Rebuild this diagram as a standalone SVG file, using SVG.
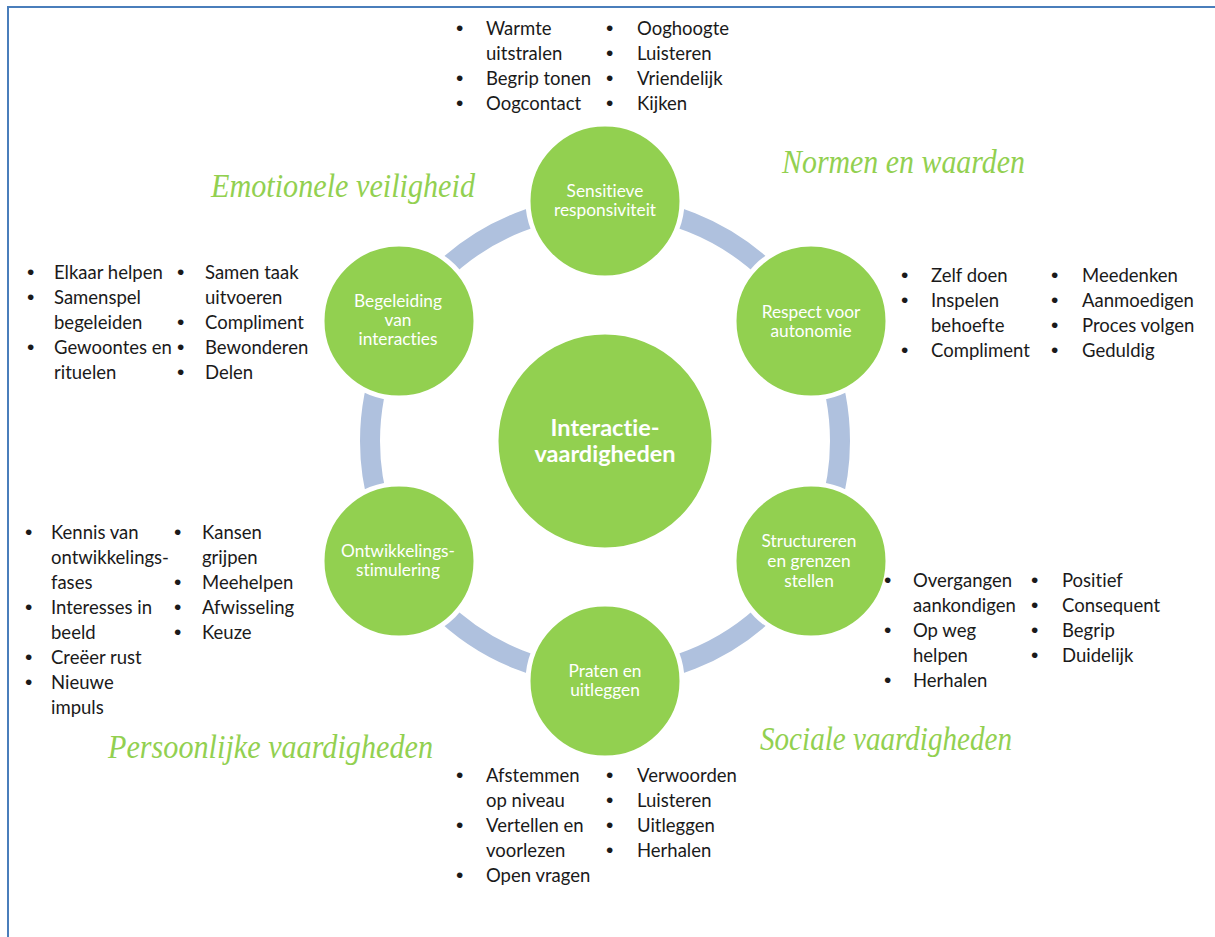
<svg xmlns="http://www.w3.org/2000/svg" width="1215" height="937" viewBox="0 0 1215 937">
<style>
.bg{fill:#ffffff}
.frame{fill:none;stroke:#4a7ebb;stroke-width:2}
.ring{fill:none;stroke:#afc1de;stroke-width:20}
.sat{fill:#92d050;stroke:#ffffff;stroke-width:5}
.core{fill:#92d050;stroke:#ffffff;stroke-width:3}
text{font-variant-ligatures:none}
.lbl{font-family:Lato,"Open Sans","Liberation Sans",sans-serif;font-size:17.3px;fill:#ffffff;text-anchor:middle}
.corelbl{font-family:Lato,"Open Sans","Liberation Sans",sans-serif;font-size:23.5px;font-weight:bold;fill:#ffffff;text-anchor:middle}
.li{font-family:Lato,"Open Sans","Liberation Sans",sans-serif;font-size:18.5px;fill:#1a1a1a}
.li .b{font-family:"Liberation Sans",sans-serif;font-size:21px}
.title{font-family:"Liberation Serif","DejaVu Serif",serif;font-style:italic;font-size:34px;fill:#92d050}
</style>
<rect class="bg" x="0" y="0" width="1215" height="937"/>
<rect class="frame" x="8" y="7" width="1300" height="1000"/>

<g id="connectors">
<circle class="ring" cx="605" cy="441" r="235"/>
</g>

<g id="center">
<circle class="core" cx="605" cy="441" r="108"/>
<text class="corelbl" x="605" y="436">Interactie-</text>
<text class="corelbl" x="605" y="462">vaardigheden</text>
</g>

<g id="sensitieve">
<circle class="sat" cx="605" cy="201" r="77"/>
<text class="lbl" x="605" y="197">Sensitieve</text>
<text class="lbl" x="605" y="216">responsiviteit</text>
</g>

<g id="respect">
<circle class="sat" cx="811" cy="321" r="77"/>
<text class="lbl" x="811" y="318">Respect voor</text>
<text class="lbl" x="811" y="337">autonomie</text>
</g>

<g id="structureren">
<circle class="sat" cx="811" cy="561" r="77"/>
<text class="lbl" x="809" y="547">Structureren</text>
<text class="lbl" x="809" y="567">en grenzen</text>
<text class="lbl" x="809" y="587">stellen</text>
</g>

<g id="praten">
<circle class="sat" cx="605" cy="681" r="77"/>
<text class="lbl" x="605" y="677">Praten en</text>
<text class="lbl" x="605" y="696">uitleggen</text>
</g>

<g id="ontwikkeling">
<circle class="sat" cx="399" cy="561" r="77"/>
<text class="lbl" x="398" y="557">Ontwikkelings-</text>
<text class="lbl" x="398" y="576">stimulering</text>
</g>

<g id="begeleiding">
<circle class="sat" cx="399" cy="321" r="77"/>
<text class="lbl" x="398" y="307">Begeleiding</text>
<text class="lbl" x="398" y="326">van</text>
<text class="lbl" x="398" y="345">interacties</text>
</g>

<g id="titles">
<text class="title" x="211" y="197" textLength="264" lengthAdjust="spacingAndGlyphs">Emotionele veiligheid</text>
<text class="title" x="782" y="173" textLength="243" lengthAdjust="spacingAndGlyphs">Normen en waarden</text>
<text class="title" x="760" y="750" textLength="252" lengthAdjust="spacingAndGlyphs">Sociale vaardigheden</text>
<text class="title" x="108" y="758" textLength="325" lengthAdjust="spacingAndGlyphs">Persoonlijke vaardigheden</text>
</g>

<g id="list-sensitieve" class="li">
<text class="b" x="456" y="35">•</text><text x="486" y="35">Warmte</text>
<text x="486" y="60">uitstralen</text>
<text class="b" x="456" y="85">•</text><text x="486" y="85">Begrip tonen</text>
<text class="b" x="456" y="110">•</text><text x="486" y="110">Oogcontact</text>
<text class="b" x="606" y="35">•</text><text x="637" y="35">Ooghoogte</text>
<text class="b" x="606" y="60">•</text><text x="637" y="60">Luisteren</text>
<text class="b" x="606" y="85">•</text><text x="637" y="85">Vriendelijk</text>
<text class="b" x="606" y="110">•</text><text x="637" y="110">Kijken</text>
</g>

<g id="list-respect" class="li">
<text class="b" x="901" y="282">•</text><text x="931" y="282">Zelf doen</text>
<text class="b" x="901" y="307">•</text><text x="931" y="307">Inspelen</text>
<text x="931" y="332">behoefte</text>
<text class="b" x="901" y="357">•</text><text x="931" y="357">Compliment</text>
<text class="b" x="1051" y="282">•</text><text x="1082" y="282">Meedenken</text>
<text class="b" x="1051" y="307">•</text><text x="1082" y="307">Aanmoedigen</text>
<text class="b" x="1051" y="332">•</text><text x="1082" y="332">Proces volgen</text>
<text class="b" x="1051" y="357">•</text><text x="1082" y="357">Geduldig</text>
</g>

<g id="list-structureren" class="li">
<text class="b" x="884" y="587">•</text><text x="913" y="587">Overgangen</text>
<text x="913" y="612">aankondigen</text>
<text class="b" x="884" y="637">•</text><text x="913" y="637">Op weg</text>
<text x="913" y="662">helpen</text>
<text class="b" x="884" y="687">•</text><text x="913" y="687">Herhalen</text>
<text class="b" x="1031" y="587">•</text><text x="1062" y="587">Positief</text>
<text class="b" x="1031" y="612">•</text><text x="1062" y="612">Consequent</text>
<text class="b" x="1031" y="637">•</text><text x="1062" y="637">Begrip</text>
<text class="b" x="1031" y="662">•</text><text x="1062" y="662">Duidelijk</text>
</g>

<g id="list-praten" class="li">
<text class="b" x="456" y="782">•</text><text x="486" y="782">Afstemmen</text>
<text x="486" y="807">op niveau</text>
<text class="b" x="456" y="832">•</text><text x="486" y="832">Vertellen en</text>
<text x="486" y="857">voorlezen</text>
<text class="b" x="456" y="882">•</text><text x="486" y="882">Open vragen</text>
<text class="b" x="606" y="782">•</text><text x="637" y="782">Verwoorden</text>
<text class="b" x="606" y="807">•</text><text x="637" y="807">Luisteren</text>
<text class="b" x="606" y="832">•</text><text x="637" y="832">Uitleggen</text>
<text class="b" x="606" y="857">•</text><text x="637" y="857">Herhalen</text>
</g>

<g id="list-ontwikkeling" class="li">
<text class="b" x="25" y="539">•</text><text x="51" y="539">Kennis van</text>
<text x="51" y="564">ontwikkelings-</text>
<text x="51" y="589">fases</text>
<text class="b" x="25" y="614">•</text><text x="51" y="614">Interesses in</text>
<text x="51" y="639">beeld</text>
<text class="b" x="25" y="664">•</text><text x="51" y="664">Creëer rust</text>
<text class="b" x="25" y="689">•</text><text x="51" y="689">Nieuwe</text>
<text x="51" y="714">impuls</text>
<text class="b" x="174" y="539">•</text><text x="202" y="539">Kansen</text>
<text x="202" y="564">grijpen</text>
<text class="b" x="174" y="589">•</text><text x="202" y="589">Meehelpen</text>
<text class="b" x="174" y="614">•</text><text x="202" y="614">Afwisseling</text>
<text class="b" x="174" y="639">•</text><text x="202" y="639">Keuze</text>
</g>

<g id="list-begeleiding" class="li">
<text class="b" x="27" y="279">•</text><text x="54" y="279">Elkaar helpen</text>
<text class="b" x="27" y="304">•</text><text x="54" y="304">Samenspel</text>
<text x="54" y="329">begeleiden</text>
<text class="b" x="27" y="354">•</text><text x="54" y="354">Gewoontes en</text>
<text x="54" y="379">rituelen</text>
<text class="b" x="177" y="279">•</text><text x="205" y="279">Samen taak</text>
<text x="205" y="304">uitvoeren</text>
<text class="b" x="177" y="329">•</text><text x="205" y="329">Compliment</text>
<text class="b" x="177" y="354">•</text><text x="205" y="354">Bewonderen</text>
<text class="b" x="177" y="379">•</text><text x="205" y="379">Delen</text>
</g>
</svg>
